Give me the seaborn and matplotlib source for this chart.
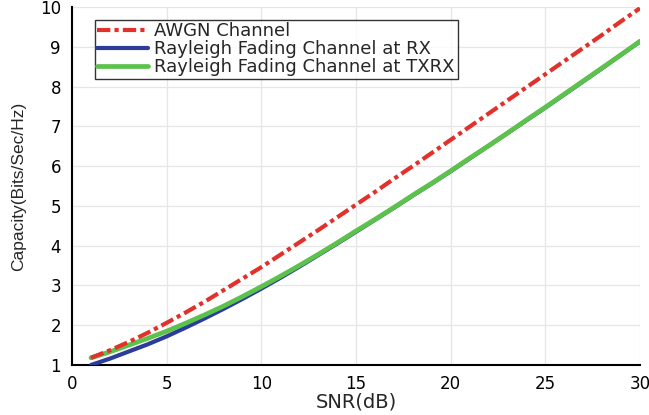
import matplotlib
matplotlib.use("Agg")
import matplotlib.pyplot as plt
import seaborn as sns
import pandas as pd

snr_db = list(range(1, 31))
awgn = [1.18, 1.37, 1.58, 1.81, 2.06, 2.32, 2.59, 2.88, 3.17, 3.46,
        3.77, 4.08, 4.39, 4.71, 5.03, 5.35, 5.68, 6.00, 6.33, 6.66,
        6.99, 7.32, 7.65, 7.98, 8.31, 8.64, 8.97, 9.30, 9.64, 9.97]
rayleigh_rx = [1.00, 1.16, 1.34, 1.52, 1.72, 1.94, 2.17, 2.41, 2.66, 2.92,
               3.19, 3.47, 3.76, 4.05, 4.35, 4.65, 4.95, 5.26, 5.56, 5.87,
               6.19, 6.51, 6.83, 7.15, 7.47, 7.80, 8.13, 8.46, 8.80, 9.13]
rayleigh_txrx = [1.18, 1.33, 1.50, 1.67, 1.85, 2.05, 2.26, 2.48, 2.72, 2.97,
                 3.23, 3.50, 3.78, 4.07, 4.37, 4.66, 4.96, 5.27, 5.57, 5.88,
                 6.20, 6.51, 6.83, 7.16, 7.48, 7.81, 8.14, 8.47, 8.80, 9.14]
labels = ["AWGN Channel", "Rayleigh Fading Channel at RX", "Rayleigh Fading Channel at TXRX"]

sns.set_theme(style="white")
plt.rcParams['font.family'] = ['DejaVu Sans']

fig = plt.figure(figsize=(6.49, 4.15), dpi=100)
ax = fig.add_axes([0.111, 0.1205, 0.875, 0.8625])

sns.lineplot(x=snr_db, y=rayleigh_rx, ax=ax, color="#2b3c9b", lw=3.0, label=labels[1], zorder=3)
sns.lineplot(x=snr_db, y=rayleigh_txrx, ax=ax, color="#5dc24b", lw=3.4, label=labels[2], zorder=4)
sns.lineplot(x=snr_db, y=awgn, ax=ax, color="#e2302a", lw=3.0, label=labels[0], zorder=5)
ax.lines[2].set_linestyle((0, (3.2, 1.0, 1.0, 1.0)))

ax.set_xlim(0, 30)
ax.set_ylim(1, 10)
ax.set_xticks([0, 5, 10, 15, 20, 25, 30])
ax.set_yticks(range(1, 11))
ax.grid(True, color="#e6e6e6", lw=0.9)
ax.tick_params(direction="in", length=5, width=1.2, colors="black", labelsize=12)
ax.tick_params(axis="x", pad=7)
ax.tick_params(axis="y", pad=8)
for s in ["top", "right"]:
    ax.spines[s].set_visible(False)
for s in ["left", "bottom"]:
    ax.spines[s].set_color("black")
    ax.spines[s].set_linewidth(1.5)
ax.set_xlabel("SNR(dB)", fontsize=14, labelpad=0)
ax.set_ylabel("Capacity(Bits/Sec/Hz)", fontsize=12.5, labelpad=10, family=['Liberation Sans'])

h, l = ax.get_legend_handles_labels()
order = [l.index(x) for x in labels]
leg = ax.legend([h[i] for i in order], [l[i] for i in order], loc="upper left",
                bbox_to_anchor=(0.04, 0.965), fontsize=13, frameon=True, fancybox=False,
                handlelength=2.8, borderpad=0.15, labelspacing=0.0, handletextpad=0.35,
                borderaxespad=0.0)
leg.get_frame().set_edgecolor("black")
leg.get_frame().set_linewidth(1.0)

fig.savefig("out.png", dpi=100)
